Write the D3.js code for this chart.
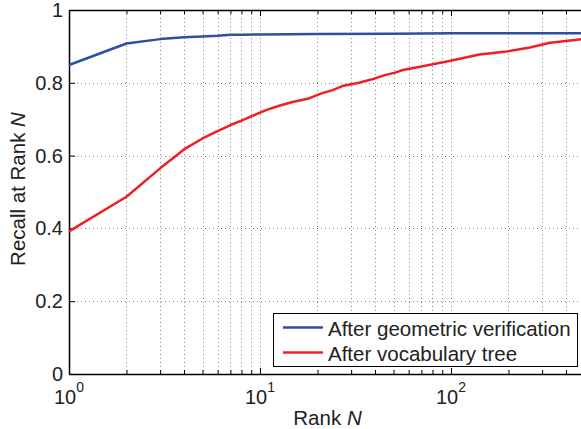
<!DOCTYPE html>
<html>
<head>
<meta charset="utf-8">
<script src="https://cdn.jsdelivr.net/npm/d3@7"></script>
<style>
  body { margin: 0; background: #fff; }
  svg { display: block; font-family: "Liberation Sans", Arial, sans-serif; }
</style>
</head>
<body>
<svg id="chart" width="581" height="429"></svg>
<script>
// rank values (log axis) and recall for each curve
const geoRanks = [1, 2, 3, 4, 5, 6, 7, 8, 10, 20, 50, 100, 500];
const geoRecall = [0.849, 0.908, 0.920, 0.925, 0.927, 0.929, 0.932, 0.932, 0.933, 0.934, 0.935, 0.936, 0.936];

const vocRanks = [1, 2, 3, 4, 5, 6, 7, 8, 9, 10, 11, 13, 15, 18, 21, 24, 27, 33, 40, 45, 51, 56, 69, 98, 141, 191, 259, 330, 470, 500];
const vocRecall = [0.392, 0.487, 0.565, 0.617, 0.647, 0.667, 0.684, 0.696, 0.708, 0.718, 0.727, 0.739, 0.748, 0.757, 0.771, 0.780, 0.791, 0.800, 0.812, 0.821, 0.828, 0.835, 0.844, 0.860, 0.878, 0.885, 0.897, 0.910, 0.919, 0.920];

const yTicks = [0, 0.2, 0.4, 0.6, 0.8, 1];
const xMajor = [1, 10, 100];
const xMinor = [2, 3, 4, 5, 6, 7, 8, 9, 20, 30, 40, 50, 60, 70, 80, 90, 200, 300, 400];

const seriesNames = ["After geometric verification", "After vocabulary tree"];
const seriesColors = ["#2f4f9f", "#ee1f25"];

const mLeft = 69, mRight = 584.5, mTop = 10, mBottom = 374;

const svg = d3.select("#chart");
const x = d3.scaleLog().domain([1, 500]).range([mLeft, mRight]);
const y = d3.scaleLinear().domain([0, 1]).range([mBottom, mTop]);

// grid
const grid = svg.append("g").attr("stroke", "#888").attr("stroke-width", 1).attr("stroke-dasharray", "1,3");
grid.selectAll(".gx").data(xMinor.concat([10, 100])).enter().append("line")
    .attr("x1", d => Math.round(x(d)) + 0.5).attr("x2", d => Math.round(x(d)) + 0.5)
    .attr("y1", mTop).attr("y2", mBottom);
grid.selectAll(".gy").data(yTicks.slice(1, -1)).enter().append("line")
    .attr("y1", d => Math.round(y(d)) + 0.5).attr("y2", d => Math.round(y(d)) + 0.5)
    .attr("x1", mLeft).attr("x2", mRight);

// axes with inward ticks
const xAxisB = d3.axisBottom(x).tickValues(xMajor.concat(xMinor)).tickSizeInner(-6).tickSizeOuter(0).tickFormat("");
const xAxisT = d3.axisTop(x).tickValues(xMajor.concat(xMinor)).tickSizeInner(-6).tickSizeOuter(0).tickFormat("");
const yAxisL = d3.axisLeft(y).tickValues(yTicks).tickSizeInner(-6).tickSizeOuter(0).tickFormat("");

const gB = svg.append("g").attr("transform", `translate(0,${mBottom})`).call(xAxisB);
const gT = svg.append("g").attr("transform", `translate(0,${mTop})`).call(xAxisT);
const gL = svg.append("g").attr("transform", `translate(${mLeft},0)`).call(yAxisL);
gB.selectAll(".tick line").filter(d => xMinor.includes(d)).attr("y2", -4);
gT.selectAll(".tick line").filter(d => xMinor.includes(d)).attr("y2", 4);
[gB, gT, gL].forEach(g => {
    g.select(".domain").attr("stroke", "#000").attr("stroke-width", 1.5);
    g.selectAll(".tick line").attr("stroke", "#000");
});

// y tick labels
svg.selectAll(".ylab").data(yTicks).enter().append("text")
    .attr("x", mLeft - 6).attr("y", d => y(d) + 7)
    .attr("text-anchor", "end").attr("font-size", 20).attr("fill", "#222")
    .text(d => d3.format("")(d));

// x tick labels 10^k
const xl = svg.selectAll(".xlab").data(xMajor).enter().append("text")
    .attr("x", d => x(d)).attr("y", 404)
    .attr("text-anchor", "middle").attr("font-size", 20).attr("fill", "#222");
xl.append("tspan").text("10");
xl.append("tspan").attr("dy", -12).attr("font-size", 14).text(d => Math.round(Math.log10(d)));

// axis titles
const xt = svg.append("text").attr("x", 327.5).attr("y", 425).attr("text-anchor", "middle")
    .attr("font-size", 20.5).attr("fill", "#222");
xt.append("tspan").text("Rank ");
xt.append("tspan").attr("font-style", "italic").text("N");

const yt = svg.append("text").attr("transform", "translate(25,189) rotate(-90)")
    .attr("text-anchor", "middle").attr("font-size", 20.5).attr("fill", "#222");
yt.append("tspan").text("Recall at Rank ");
yt.append("tspan").attr("font-style", "italic").text("N");

// lines
const line = d3.line().x(d => x(d[0])).y(d => y(d[1]));
const series = [
    d3.zip(geoRanks, geoRecall),
    d3.zip(vocRanks, vocRecall)
];
svg.selectAll(".series").data(series).enter().append("path")
    .attr("d", line).attr("fill", "none")
    .attr("stroke", (d, i) => seriesColors[i]).attr("stroke-width", 2.5)
    .attr("stroke-linejoin", "round");

// legend
const lg = svg.append("g");
lg.append("rect").attr("x", 273.5).attr("y", 313.5).attr("width", 304).attr("height", 53)
    .attr("fill", "#fff").attr("stroke", "#000").attr("stroke-width", 1);
seriesNames.forEach((name, i) => {
    const cy = 327.5 + i * 25;
    lg.append("line").attr("x1", 283).attr("x2", 323).attr("y1", cy).attr("y2", cy)
        .attr("stroke", seriesColors[i]).attr("stroke-width", 2.5);
    lg.append("text").attr("x", 328).attr("y", cy + 8).attr("font-size", 20.5).attr("fill", "#222").text(name);
});
</script>
</body>
</html>
